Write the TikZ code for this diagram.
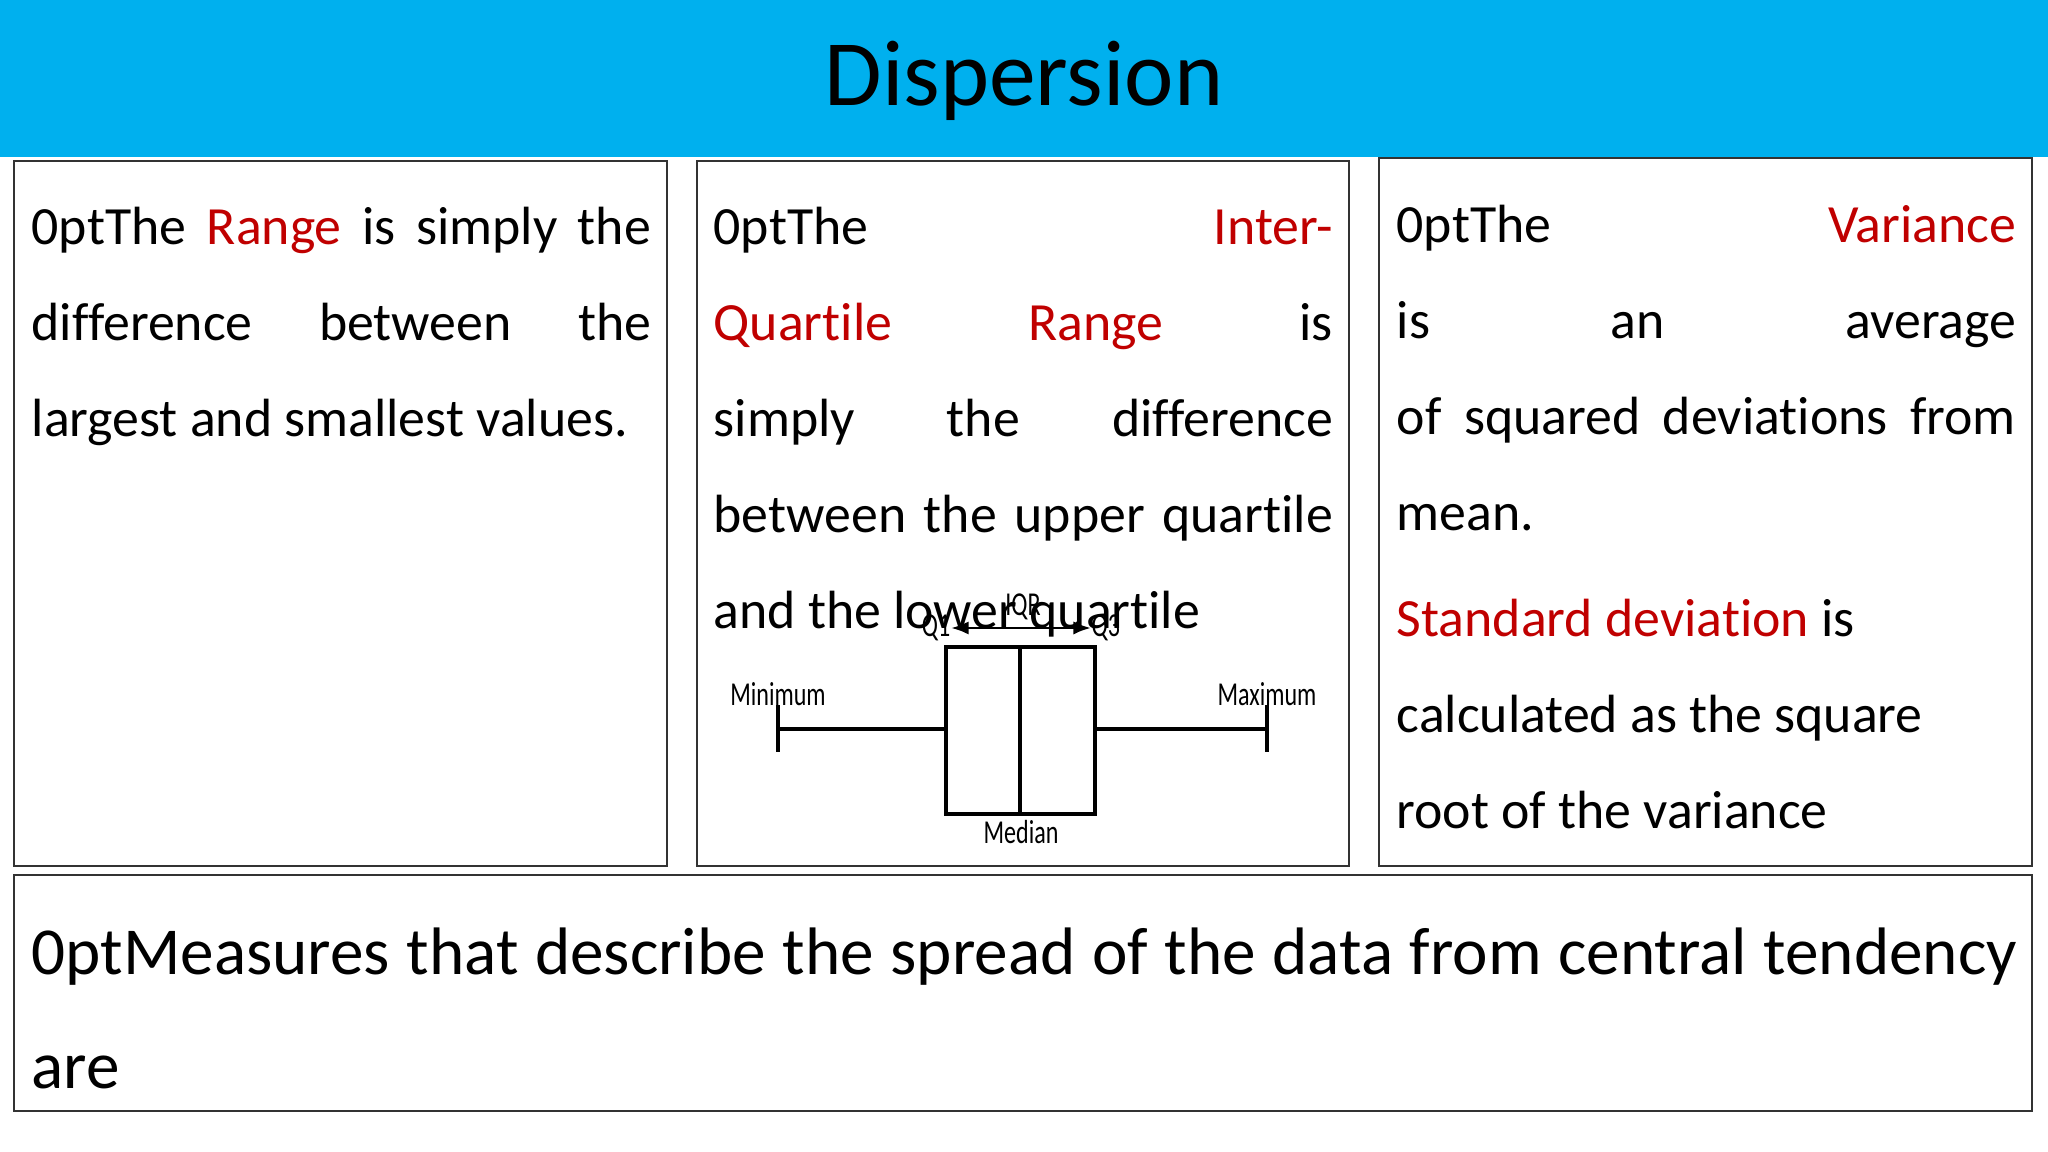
\documentclass[tikz,border=0pt]{standalone}
\usepackage{fontspec}
\setmainfont{Carlito}[Ligatures=NoCommon]
\usetikzlibrary{arrows.meta}
\definecolor{hdr}{HTML}{00B0EE}
\definecolor{rd}{HTML}{C00000}
\tikzset{
  panel/.style={draw=black!80, line width=0.8pt},
  body/.style={anchor=north west, inner sep=0pt, text width=6.19cm, align=justify,
    font=\fontsize{15.3pt}{27.3pt}\selectfont\hyphenpenalty=10000},
  bp/.style={line width=1pt},
  bplab/.style={inner sep=0pt, font=\fontsize{9.5pt}{10pt}\selectfont}
}
\newcommand{\hl}[1]{\textcolor{rd}{#1}}
\newcommand{\cond}[1]{\scalebox{0.72}[1]{#1}}
\begin{document}
\begin{tikzpicture}[x=0.01cm,y=-0.01cm]
\useasboundingbox (0,0) rectangle (2048,1152);
\fill[white] (0,0) rectangle (2048,1152);
\fill[hdr] (0,0) rectangle (2048,157);
\node[font=\fontsize{26.6pt}{30pt}\selectfont] (title) at (1024,81) {Dispersion};
\draw[panel] (14,161) rectangle (667,866);
\draw[panel] (697,161) rectangle (1349,866);
\draw[panel] (1379,158) rectangle (2032,866);
\draw[panel] (14,875) rectangle (2032,1111);
\node[body] (t1) at (31,206) {The \hl{Range} is simply the\linebreak difference between the\linebreak largest and smallest values.};
\node[body] (t2) at (713,206) {The \hl{Inter-Quartile Range} is\linebreak simply the difference\linebreak between the upper quartile\linebreak and the lower quartile};
\node[body] (t3) at (1396,204) {The \hl{Variance} is an average\linebreak of squared deviations from\linebreak mean.\par\vspace{3pt}
\hl{Standard deviation} is\par calculated as the square\par root of the variance};
\node[anchor=north west, inner sep=0pt, text width=19.84cm, align=justify,
  font=\fontsize{19.1pt}{32.4pt}\selectfont\hyphenpenalty=10000] (t4) at (31,927)
  {Measures that describe the spread of the data from central tendency are\linebreak \textbf{Measures of Dispersion.}};
% boxplot
\coordinate (bl) at (946,647); \coordinate (tr) at (1095,814);
\draw[line width=1.3pt] (bl) rectangle (tr);
\draw[line width=1.2pt] (1020,647) -- (1020,814);
\coordinate (wl) at (778,729); \coordinate (wr) at (1267,729);
\draw[bp] (wl) -- (946,729); \draw[bp] (1095,729) -- (wr);
\draw[bp] (778,705) -- (778,752); \draw[bp] (1267,705) -- (1267,752);
\coordinate (a1) at (951,628); \coordinate (a2) at (1091,628);
\draw[line width=0.8pt, {Latex[length=5pt]}-{Latex[length=5pt]}] (a1) -- (a2);
\node[bplab, anchor=east] (q1) at (a1) {\cond{Q1}};
\node[bplab, anchor=west] (q3) at (a2) {\cond{Q3}};
\node[bplab] (iqr) at (1023,607) {\cond{IQR}};
\node[bplab] (mn) at (778,694) {\cond{Minimum}};
\node[bplab] (mx) at (1267,694) {\cond{Maximum}};
\node[bplab] (md) at (1021,832) {\cond{Median}};
\end{tikzpicture}
\end{document}
